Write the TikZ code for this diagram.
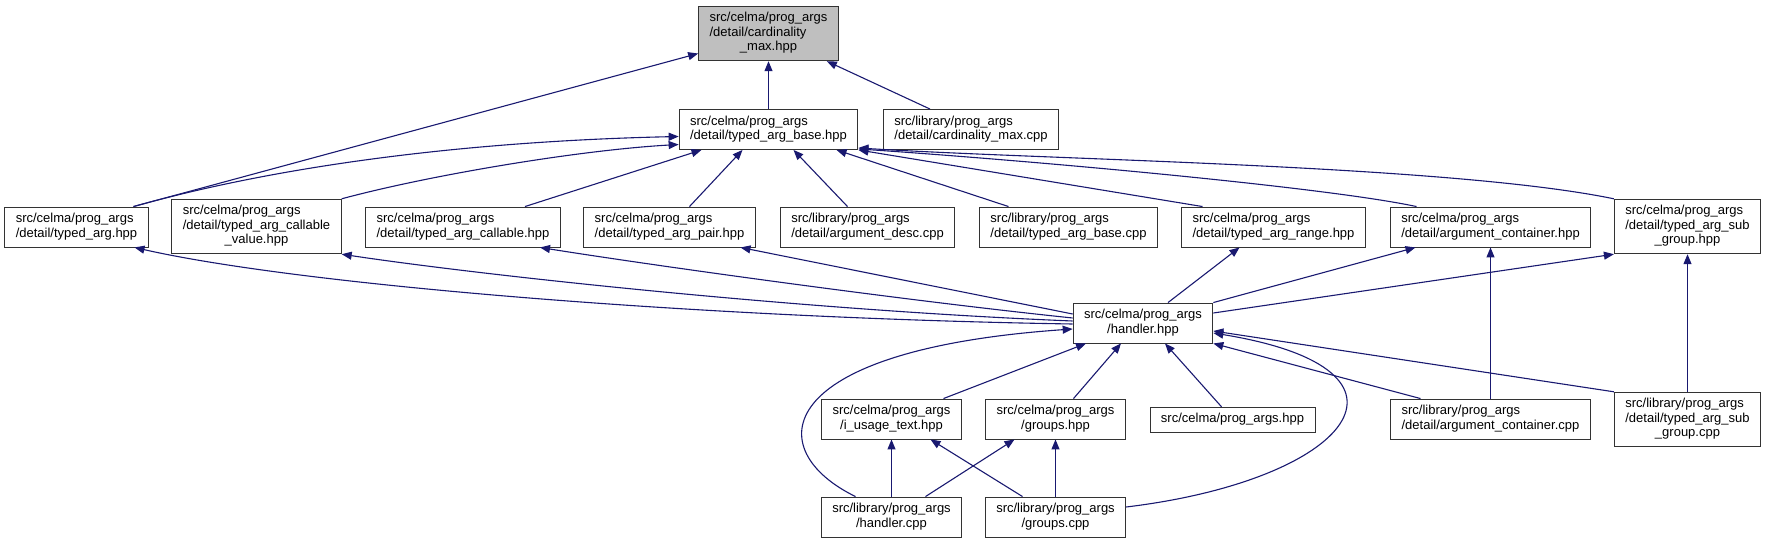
\documentclass[tikz,border=0pt]{standalone}
\usepackage{fontspec}
\setmainfont{Liberation Sans}
\usetikzlibrary{arrows.meta}
\definecolor{edgeblue}{RGB}{25,25,112}
\definecolor{focusgray}{RGB}{191,191,191}
\newcommand{\lblone}[1]{\begin{tabular}{@{}c@{}}#1\end{tabular}}
\newcommand{\lbltwo}[2]{\begin{tabular}{@{}l@{}}#1\\\multicolumn{1}{@{}c@{}}{#2}\end{tabular}}
\newcommand{\lblthree}[3]{\begin{tabular}{@{}l@{}}#1\\#2\\\multicolumn{1}{@{}c@{}}{#3}\end{tabular}}

\begin{document}
\begin{tikzpicture}[x=1pt, y=-1pt,
  file/.style={rectangle, draw=black!80, line width=0.9pt, fill=white,
               inner xsep=11pt, inner ysep=5.5pt,
               font=\fontsize{13}{14.5}\selectfont},
  arr/.style={-{Triangle[length=10pt,width=8pt]}, draw=edgeblue, line width=1.1pt}
]
\useasboundingbox (0,0) rectangle (1766,543);

\node[file, fill=focusgray] (card) at (768.5,33.5)
  {\lblthree{src/celma/prog\_args}{/detail/cardinality}{\_max.hpp}};
\node[file] (base) at (768.5,129.5)
  {\lbltwo{src/celma/prog\_args}{/detail/typed\_arg\_base.hpp}};
\node[file] (cardcpp) at (971,129.5)
  {\lbltwo{src/library/prog\_args}{/detail/cardinality\_max.cpp}};

\node[file] (typedarg) at (76.5,227)
  {\lbltwo{src/celma/prog\_args}{/detail/typed\_arg.hpp}};
\node[file] (callval) at (256.5,226.5)
  {\lblthree{src/celma/prog\_args}{/detail/typed\_arg\_callable}{\_value.hpp}};
\node[file] (callable) at (463,227)
  {\lbltwo{src/celma/prog\_args}{/detail/typed\_arg\_callable.hpp}};
\node[file] (pair) at (669.5,227)
  {\lbltwo{src/celma/prog\_args}{/detail/typed\_arg\_pair.hpp}};
\node[file] (argdesc) at (867.5,227)
  {\lbltwo{src/library/prog\_args}{/detail/argument\_desc.cpp}};
\node[file] (basecpp) at (1068.5,227)
  {\lbltwo{src/library/prog\_args}{/detail/typed\_arg\_base.cpp}};
\node[file] (range) at (1273.5,227)
  {\lbltwo{src/celma/prog\_args}{/detail/typed\_arg\_range.hpp}};
\node[file] (conthpp) at (1490.5,227)
  {\lbltwo{src/celma/prog\_args}{/detail/argument\_container.hpp}};
\node[file] (subhpp) at (1687.5,226.5)
  {\lblthree{src/celma/prog\_args}{/detail/typed\_arg\_sub}{\_group.hpp}};

\node[file] (handler) at (1143,323)
  {\lbltwo{src/celma/prog\_args}{/handler.hpp}};

\node[file] (usage) at (891.5,419)
  {\lbltwo{src/celma/prog\_args}{/i\_usage\_text.hpp}};
\node[file] (groupshpp) at (1055.5,419)
  {\lbltwo{src/celma/prog\_args}{/groups.hpp}};
\node[file] (progargs) at (1232.5,420)
  {\lblone{src/celma/prog\_args.hpp}};
\node[file] (contcpp) at (1490.5,419)
  {\lbltwo{src/library/prog\_args}{/detail/argument\_container.cpp}};
\node[file] (subcpp) at (1687.5,419.5)
  {\lblthree{src/library/prog\_args}{/detail/typed\_arg\_sub}{\_group.cpp}};

\node[file] (handlercpp) at (891.5,517)
  {\lbltwo{src/library/prog\_args}{/handler.cpp}};
\node[file] (groupscpp) at (1055.5,517)
  {\lbltwo{src/library/prog\_args}{/groups.cpp}};

\draw[arr] (base) -- (card);
\draw[arr] ([xshift=-41pt]cardcpp.north) -- ([xshift=-12pt]card.south east);
\draw[arr] ([xshift=57pt]typedarg.north) -- ([yshift=-20pt]card.west);

\draw[arr] ([xshift=57pt]typedarg.north) .. controls (314,156) and (520,140) .. ([yshift=-7pt]base.west);
\draw[arr] (callval.north east) .. controls (430,175) and (580,150) .. ([yshift=-15pt]base.west);
\draw[arr] ([xshift=62pt]callable.north) -- ([xshift=-67pt]base.south);
\draw[arr] ([xshift=20pt]pair.north) -- ([xshift=-26pt]base.south);
\draw[arr] ([xshift=-20pt]argdesc.north) -- ([xshift=25pt]base.south);
\draw[arr] ([xshift=-60pt]basecpp.north) -- ([xshift=68pt]base.south);
\draw[arr] ([xshift=-71pt]range.north) -- (base.south east);
\draw[arr] ([xshift=-74pt]conthpp.north) .. controls (1330,188) and (1050,162) .. ([yshift=1pt]base.south east);
\draw[arr] (subhpp.north west) .. controls (1450,165) and (1050,160) .. ([yshift=2pt]base.south east);

\draw[arr] ([yshift=-1pt]handler.west) .. controls (700,318) and (300,285) .. ([xshift=58pt]typedarg.south);
\draw[arr] ([yshift=2pt]handler.west) .. controls (800,310) and (480,275) .. (callval.south east);
\draw[arr] ([yshift=5pt]handler.west) .. controls (900,300) and (650,265) .. ([xshift=77pt]callable.south);
\draw[arr] ([yshift=9pt]handler.west) -- ([xshift=71pt]pair.south);
\draw[arr] ([xshift=25pt]handler.north) -- ([xshift=-34pt]range.south);
\draw[arr] (handler.north east) -- ([xshift=-75pt]conthpp.south);
\draw[arr] ([yshift=10pt]handler.east) -- (subhpp.south west);
\draw[arr] (contcpp) -- (conthpp);
\draw[arr] (subcpp) -- (subhpp);

\draw[arr] ([xshift=52pt]usage.north) -- ([xshift=-57pt]handler.south);
\draw[arr] ([xshift=18pt]groupshpp.north) -- ([xshift=-22pt]handler.south);
\draw[arr] ([xshift=-11pt]progargs.north) -- ([xshift=22pt]handler.south);
\draw[arr] ([xshift=-70pt]contcpp.north) -- (handler.south east);
\draw[arr] (subcpp.north west) -- ([yshift=-8pt]handler.east);
\draw[arr] ([xshift=-36pt]handlercpp.north) .. controls (760,450) and (770,350) .. ([yshift=-6pt]handler.west);
\draw[arr] ([yshift=10pt]groupscpp.east) .. controls (1350,480) and (1440,370) .. ([yshift=-10pt]handler.east);

\draw[arr] (handlercpp) -- (usage);
\draw[arr] ([xshift=-33pt]groupscpp.north) -- ([xshift=39pt]usage.south);
\draw[arr] ([xshift=34pt]handlercpp.north) -- ([xshift=-41pt]groupshpp.south);
\draw[arr] (groupscpp) -- (groupshpp);
\end{tikzpicture}
\end{document}
